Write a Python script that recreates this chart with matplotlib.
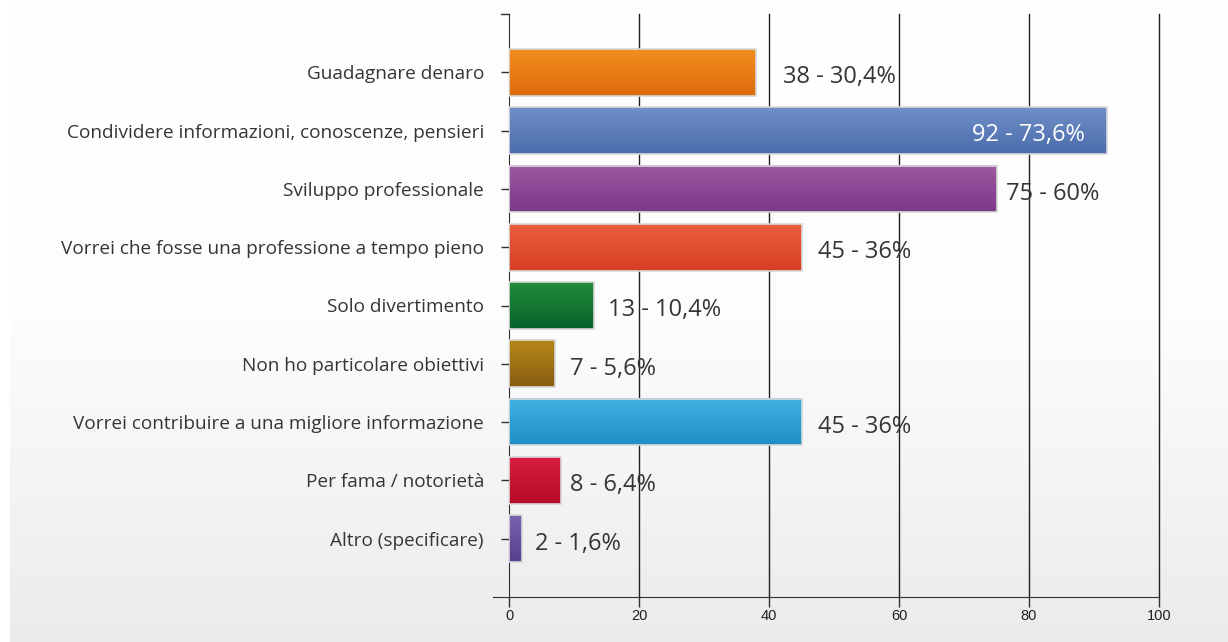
import numpy as np
import matplotlib.pyplot as plt
from matplotlib.colors import LinearSegmentedColormap, to_rgb

# Survey answers: count and share of respondents
categories = [
    "Guadagnare denaro",
    "Condividere informazioni, conoscenze, pensieri",
    "Sviluppo professionale",
    "Vorrei che fosse una professione a tempo pieno",
    "Solo divertimento",
    "Non ho particolare obiettivi",
    "Vorrei contribuire a una migliore informazione",
    "Per fama / notorietà",
    "Altro (specificare)",
]
counts = [38, 92, 75, 45, 13, 7, 45, 8, 2]
percents = ["30,4", "73,6", "60", "36", "10,4", "5,6", "36", "6,4", "1,6"]

# (top colour, bottom colour) for each bar's vertical gradient
bar_colors = [
    ("#f28e1e", "#de6a0c"),
    ("#7090c8", "#4a6cab"),
    ("#9c5aa2", "#7b3887"),
    ("#ea5e3e", "#d63e22"),
    ("#238c3a", "#07622a"),
    ("#b68818", "#875c12"),
    ("#42b2e2", "#1e8ec6"),
    ("#d81e40", "#b40c28"),
    ("#7a62ae", "#58408e"),
]
# gap (pixels) between bar end and its value label; negative = inside the bar
label_gap = [27, -22, 10, 16, 15, 15, 16, 9, 13]

plt.rcParams["font.family"] = ["Open Sans", "DejaVu Sans"]
text_color = "#353535"

fig = plt.figure(figsize=(12.28, 6.42), dpi=100)

# light panel behind the chart, white at the top fading to grey
bg = fig.add_axes([10 / 1228, 0, 1 - 10 / 1228, 1], zorder=-10)
grad = np.linspace(0, 1, 256).reshape(-1, 1)
bg_cmap = LinearSegmentedColormap.from_list("bg", ["#ffffff", "#fdfdfd", "#eaebea"])
bg.imshow(grad, aspect="auto", cmap=bg_cmap, extent=[0, 1, 0, 1], origin="upper")
bg.axis("off")

ax = fig.add_axes([509 / 1228, 1 - 597 / 642, 650 / 1228, 583 / 642])
ax.patch.set_alpha(0)

ypos = np.arange(len(categories))
bar_h = 0.8

for y, c, (top, bot) in zip(ypos, counts, bar_colors):
    cmap = LinearSegmentedColormap.from_list("b", [to_rgb(top), to_rgb(bot)])
    ax.imshow(grad, aspect="auto", cmap=cmap, origin="upper",
              extent=[0, c, y + bar_h / 2, y - bar_h / 2], zorder=3)
    ax.add_patch(plt.Rectangle((0, y - bar_h / 2), c, bar_h, fill=False,
                               edgecolor="#d8d8d8", linewidth=1.2, zorder=4))

ax.set_xlim(0, 100)
ax.set_ylim(len(categories), -1)

for y, c, p, gap in zip(ypos, counts, percents, label_gap):
    inside = gap < 0
    ax.annotate(f"{c} - {p}%", (c, y), xytext=(gap * 0.72, -3.5),
                textcoords="offset points", ha="right" if inside else "left",
                va="center", fontsize=17,
                color="white" if inside else text_color, zorder=5)

xticks = np.arange(0, 101, 20)
ax.set_xticks(xticks)
for x in xticks[1:]:
    ax.axvline(x, color="#202020", linewidth=1.0, zorder=1, clip_on=False)
ax.set_yticks(ypos)
ax.set_yticklabels(categories, fontsize=13.7, color=text_color)
ax.tick_params(axis="y", length=6, width=1, color="#303030", pad=12)
ax.tick_params(axis="x", length=7, width=1, color="#303030", pad=2,
               labelsize=10.5, labelcolor="#202020")
for lbl in ax.get_xticklabels():
    lbl.set_family(["Liberation Sans", "DejaVu Sans"])

for side in ["top", "right"]:
    ax.spines[side].set_visible(False)
ax.spines["left"].set_color("#303030")
ax.spines["bottom"].set_color("#303030")
ax.spines["bottom"].set_bounds(-2.5, 100)

# small cap tick at the top of the vertical axis
ax.plot([-1.2, 0], [-1, -1], color="#303030", linewidth=1, clip_on=False)

fig.savefig("out.png", dpi=100)
